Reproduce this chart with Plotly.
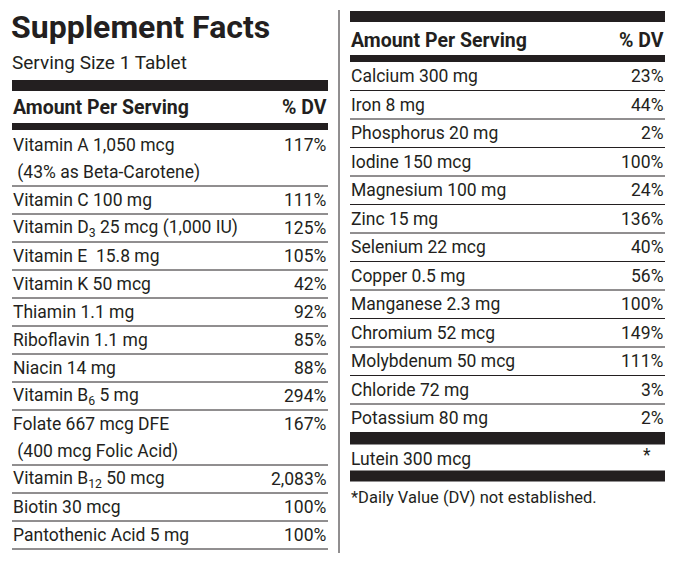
import plotly.graph_objects as go

left_names = ["Vitamin A 1,050 mcg<br> (43% as Beta-Carotene)", "Vitamin C 100 mg",
              "Vitamin D<sub>3</sub> 25 mcg (1,000 IU)", "Vitamin E  15.8 mg", "Vitamin K 50 mcg",
              "Thiamin 1.1 mg", "Riboflavin 1.1 mg", "Niacin 14 mg", "Vitamin B<sub>6</sub> 5 mg",
              "Folate 667 mcg DFE<br> (400 mcg Folic Acid)", "Vitamin B<sub>12</sub> 50 mcg",
              "Biotin 30 mcg", "Pantothenic Acid 5 mg"]
left_dv = ["117%", "111%", "125%", "105%", "42%", "92%", "85%", "88%", "294%",
           "167%", "2,083%", "100%", "100%"]
right_names = ["Calcium 300 mg", "Iron 8 mg", "Phosphorus 20 mg", "Iodine 150 mcg",
               "Magnesium 100 mg", "Zinc 15 mg", "Selenium 22 mcg", "Copper 0.5 mg",
               "Manganese 2.3 mg", "Chromium 52 mcg", "Molybdenum 50 mcg", "Chloride 72 mg",
               "Potassium 80 mg"]
right_dv = ["23%", "44%", "2%", "100%", "24%", "136%", "40%", "56%", "100%", "149%",
            "111%", "3%", "2%"]

FONT = "Roboto"
INK = "#231f20"
OFF = 8  # page body margin
fig = go.Figure()
shapes, ann = [], []


def bar(x0, x1, y0, y1):
    shapes.append(dict(type="rect", x0=x0, x1=x1, y0=y0, y1=y1, fillcolor=INK, line_width=0))


def hline(x0, x1, y):
    shapes.append(dict(type="line", x0=x0, x1=x1, y0=y, y1=y, line=dict(color=INK, width=1)))


def text(x, y, s, size=17.5, anchor="left", bold=False):
    if bold:
        s = "<b>" + s + "</b>"
    ann.append(dict(x=x, y=y, text=s, showarrow=False, xanchor=anchor, yanchor="middle",
                    align="left", font=dict(family=FONT, size=size, color=INK)))


def rows(names, dvs, x0, x1, y, h1, h2):
    for name, dv in zip(names, dvs):
        h = h2 if "<br>" in name else h1
        first, _, second = name.partition("<br>")
        text(x0 - 1, y + 14, first)
        if second:
            text(x0 - 1, y + 41, second)
        text(x1 + 1, y + 14, dv, anchor="right")
        y += h
        hline(x0, x1, y)
    return y


# left panel
LX0, LX1 = 12, 328
text(LX0 - 3, 27, "Supplement Facts", size=32, bold=True)
text(LX0 - 2, 62, "Serving Size 1 Tablet", size=19)
bar(LX0, LX1, 80, 91)
text(LX0 - 1, 107, "Amount Per Serving", size=19.5, bold=True)
text(LX1 + 1, 107, "% DV", size=19.5, anchor="right", bold=True)
bar(LX0, LX1, 123, 130)
rows(left_names, left_dv, LX0, LX1, 131, 28, 55)

# divider
shapes.append(dict(type="line", x0=339, x1=339, y0=10, y1=553, line=dict(color=INK, width=1)))

# right panel
RX0, RX1 = 350, 665
bar(RX0, RX1, 11, 22)
text(RX0 - 1, 40, "Amount Per Serving", size=19.5, bold=True)
text(RX1 + 1, 40, "% DV", size=19.5, anchor="right", bold=True)
bar(RX0, RX1, 55, 62)
y = rows(right_names, right_dv, RX0, RX1, 62, 28.5, 55)
bar(RX0, RX1, y, y + 12)
text(RX0 - 1, y + 26, "Lutein 300 mcg")
text(RX1 - 12, y + 22, "*", anchor="right")
bar(RX0, RX1, y + 38, y + 49)
text(RX0 - 1, y + 65, "*Daily Value (DV) not established.", size=16.5)

fig.update_layout(width=679, height=563, margin=dict(l=0, r=0, t=0, b=0),
                  paper_bgcolor="white", plot_bgcolor="white",
                  xaxis=dict(range=[OFF, 679 + OFF], visible=False),
                  yaxis=dict(range=[563 + OFF, OFF], visible=False),
                  shapes=shapes, annotations=ann, showlegend=False)
fig.write_html("out.html")
